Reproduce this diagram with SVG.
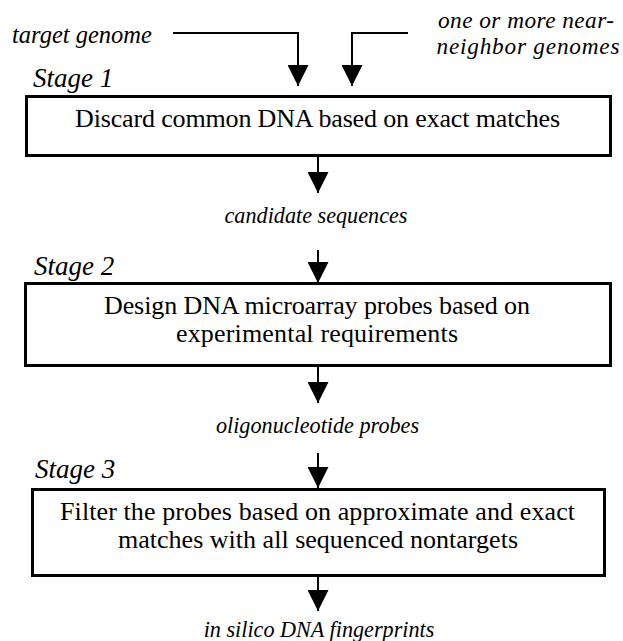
<svg xmlns="http://www.w3.org/2000/svg" width="623" height="641" viewBox="0 0 623 641">
  <style>
    text { font-family: 'Liberation Serif', 'Times New Roman', serif; fill: #000000; }
    .box { fill: #ffffff; stroke: #000000; stroke-width: 3; }
    .main { font-size: 26px; text-anchor: middle; }
    .input { font-style: italic; font-size: 24.5px; }
    .input-sm { font-style: italic; font-size: 23.3px; text-anchor: middle; }
    .flow { font-style: italic; font-size: 22.2px; text-anchor: middle; }
    .stage { font-style: italic; font-size: 27px; }
    .wire { fill: none; stroke: #000000; stroke-width: 2; }
  </style>
  <defs>
    <marker id="head" viewBox="0 0 21 21" refX="21" refY="10.5" markerWidth="21" markerHeight="21" markerUnits="userSpaceOnUse" orient="auto">
      <path d="M0,0 L21,10.5 L0,21 Z" fill="#000000"/>
    </marker>
  </defs>

  <rect width="623" height="641" fill="#ffffff"/>

  <!-- input labels -->
  <g id="input-target">
    <text class="input" x="12" y="43">target genome</text>
  </g>
  <g id="input-neighbors">
    <text class="input-sm" x="526" y="28" textLength="176">one or more near-</text>
    <text class="input-sm" x="528" y="54" textLength="183">neighbor genomes</text>
  </g>

  <!-- connectors -->
  <g id="connectors">
    <path class="wire" d="M173,33 H298 V86" marker-end="url(#head)"/>
    <path class="wire" d="M408,33 H352 V86" marker-end="url(#head)"/>
    <path class="wire" d="M318,157 V193" marker-end="url(#head)"/>
    <path class="wire" d="M318,250 V283" marker-end="url(#head)"/>
    <path class="wire" d="M318,367 V403" marker-end="url(#head)"/>
    <path class="wire" d="M318,453 V488" marker-end="url(#head)"/>
    <path class="wire" d="M318,577 V611" marker-end="url(#head)"/>
  </g>

  <!-- stage 1 -->
  <g id="stage1">
    <text class="stage" x="33" y="87">Stage 1</text>
    <rect class="box" x="26.5" y="96.5" width="584" height="59"/>
    <text class="main" x="317.5" y="127" textLength="485">Discard common DNA based on exact matches</text>
  </g>
  <g id="candidates">
    <text class="flow" x="316" y="223">candidate sequences</text>
  </g>

  <!-- stage 2 -->
  <g id="stage2">
    <text class="stage" x="34" y="275">Stage 2</text>
    <rect class="box" x="25.5" y="283.5" width="585" height="82"/>
    <text class="main" x="317" y="314" textLength="426">Design DNA microarray probes based on</text>
    <text class="main" x="317" y="342" textLength="282">experimental requirements</text>
  </g>
  <g id="probes">
    <text class="flow" x="317.5" y="433">oligonucleotide probes</text>
  </g>

  <!-- stage 3 -->
  <g id="stage3">
    <text class="stage" x="35" y="478">Stage 3</text>
    <rect class="box" x="32.5" y="489.5" width="572" height="86"/>
    <text class="main" x="317.5" y="520" textLength="515">Filter the probes based on approximate and exact</text>
    <text class="main" x="318" y="548" textLength="400">matches with all sequenced nontargets</text>
  </g>
  <g id="fingerprints">
    <text class="flow" x="319" y="637">in silico DNA fingerprints</text>
  </g>
</svg>
